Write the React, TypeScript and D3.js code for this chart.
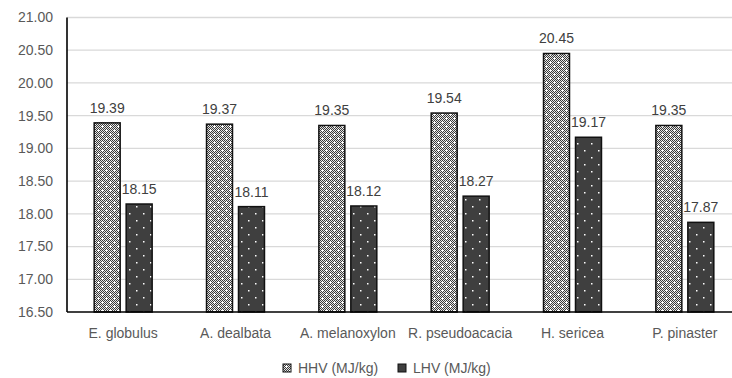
import React from "react";
import * as d3 from "d3";

const categories = ["E. globulus", "A. dealbata", "A. melanoxylon", "R. pseudoacacia", "H. sericea", "P. pinaster"];
const hhv = [19.39, 19.37, 19.35, 19.54, 20.45, 19.35];
const lhv = [18.15, 18.11, 18.12, 18.27, 19.17, 17.87];
const seriesNames = ["HHV (MJ/kg)", "LHV (MJ/kg)"];
const yTicks = [16.5, 17, 17.5, 18, 18.5, 19, 19.5, 20, 20.5, 21];

const W = 732, H = 378;
const left = 67, right = 741, top = 17.5, bottom = 312;
const font = "'Liberation Sans', Arial, sans-serif";

export default function App() {
  const y = d3.scaleLinear().domain([16.5, 21]).range([bottom, top]);
  const x0 = d3.scaleBand<string>().domain(categories).range([left, right]).paddingInner(0.484).paddingOuter(0.242);
  const x1 = d3.scaleBand<string>().domain(seriesNames).range([0, x0.bandwidth()]).paddingInner(0.1875);
  const series = [hhv, lhv];
  const fills = ["url(#pHHV)", "url(#pLHV)"];

  const checker: React.ReactNode[] = [];
  for (let i = 0; i < 8; i++)
    for (let j = 0; j < 8; j++)
      if ((i + j) % 2 === 0) checker.push(<rect key={`c${i}-${j}`} x={i} y={j} width={1} height={1} fill="#3a3a3a" />);

  return (
    <svg width={W} height={H} style={{ position: "absolute", left: 0, top: 0, background: "#fff" }}>
      <defs>
        <pattern id="pHHV" width={8} height={8} patternUnits="userSpaceOnUse">
          <rect width={8} height={8} fill="#e6e6e6" />
          {checker}
          <rect x={1} y={2} width={3} height={1} fill="#fff" />
          <rect x={2} y={1} width={1} height={3} fill="#fff" />
          <rect x={5} y={6} width={3} height={1} fill="#fff" />
          <rect x={6} y={5} width={1} height={3} fill="#fff" />
        </pattern>
        <pattern id="pLHV" width={14} height={14} patternUnits="userSpaceOnUse">
          <rect width={14} height={14} fill="#3f3f3f" />
          <rect x={3} y={3} width={1.5} height={1.5} fill="#fff" />
          <rect x={10} y={10} width={1.5} height={1.5} fill="#fff" />
        </pattern>
      </defs>

      {yTicks.map((t) => (
        <g key={t}>
          {t > 16.5 && <line x1={left} x2={W} y1={y(t)} y2={y(t)} stroke="#d9d9d9" strokeWidth={1.3} />}
          <text x={53} y={y(t)} dy="0.35em" textAnchor="end" fontFamily={font} fontSize={14} fill="#595959">
            {t.toFixed(2)}
          </text>
        </g>
      ))}

      {categories.map((c, i) => (
        <g key={c}>
          {series.map((s, k) => {
            const bx = (x0(c) as number) + (x1(seriesNames[k]) as number);
            const bw = x1.bandwidth();
            return (
              <g key={k}>
                <rect x={bx} y={y(s[i])} width={bw} height={bottom - y(s[i])} fill={fills[k]} stroke="#111" strokeWidth={1.5} />
                <text x={bx + bw / 2} y={y(s[i]) - 10} textAnchor="middle" fontFamily={font} fontSize={14} fill="#404040">
                  {s[i].toFixed(2)}
                </text>
              </g>
            );
          })}
          <text x={(x0(c) as number) + x0.bandwidth() / 2} y={338} textAnchor="middle" fontFamily={font} fontSize={14} fill="#595959">
            {c}
          </text>
        </g>
      ))}

      <line x1={left} x2={left} y1={top} y2={bottom} stroke="#000" strokeWidth={1.6} />
      <line x1={left} x2={W} y1={bottom} y2={bottom} stroke="#000" strokeWidth={1.6} />

      {seriesNames.map((n, k) => {
        const lx = [283, 398][k];
        return (
          <g key={n}>
            <rect x={lx} y={364} width={8} height={8} fill={k === 0 ? "url(#pHHV)" : "#3f3f3f"} stroke="#111" strokeWidth={1} />
            <text x={lx + 15} y={368} dy="0.35em" fontFamily={font} fontSize={14} fill="#595959">
              {n}
            </text>
          </g>
        );
      })}
    </svg>
  );
}
